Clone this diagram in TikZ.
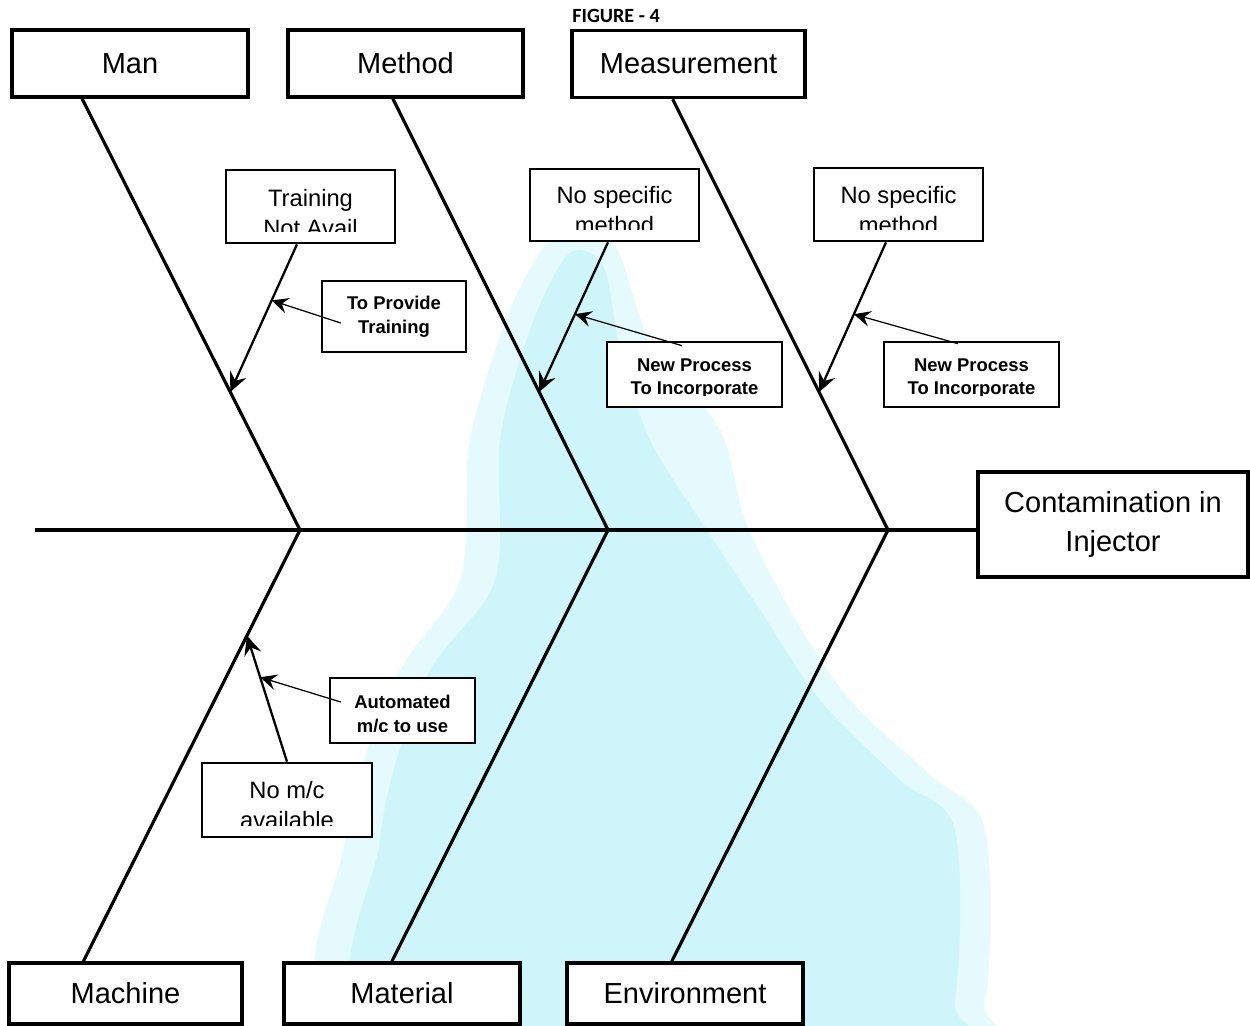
\documentclass[tikz,border=0pt]{standalone}
\usepackage{fontspec}
\setmainfont{Liberation Sans}
\newfontfamily\figfont{Carlito}
\usepackage{xcolor}
\usetikzlibrary{arrows.meta, calc, positioning}

\definecolor{wmcyan}{RGB}{206,246,250}
\definecolor{wmpale}{RGB}{228,250,252}
\newcommand{\causefont}{\fontsize{13.5}{17}\selectfont}
\newcommand{\notefont}{\bfseries\fontsize{10.5}{13.6}\selectfont}

\tikzset{
	bone/.style={line width=1.8pt, line join=miter},
	bone box/.style={draw, line width=2pt, fill=white, inner sep=0pt, minimum height=1.34cm, align=center, font=\fontsize{16.5}{22.7}\selectfont},
	cause box/.style={draw, line width=1.5pt, fill=white, inner sep=0pt},
	cause text/.style n args={3}{path picture={
		\clip ([yshift=0.23cm]path picture bounding box.south west) rectangle (path picture bounding box.north east);
		\node[anchor=north, inner sep=0pt, minimum width=0pt, minimum height=0pt, align=center, font=#1] at ([yshift=-#2]path picture bounding box.north) {#3};
	}},
	cause arrow/.style={line width=1.3pt, -{Stealth[length=11pt, width=10pt, inset=4pt]}},
	note arrow/.style={line width=0.7pt, -{Stealth[length=9.5pt, width=9pt, inset=3.5pt]}},
}

\begin{document}
\begin{tikzpicture}[x=0.02cm, y=-0.02cm]
	\useasboundingbox (0,0) rectangle (1250,1026);
	\fill[wmpale] plot[smooth cycle, tension=0.55] coordinates {(575,228) (615,245) (650,340) (720,430) (745,520) (790,610) (850,700) (930,775) (985,830) (985,1000) (940,1030) (360,1030) (345,840) (395,680) (460,580) (470,440) (510,310) (550,238)};
	\fill[wmcyan] plot[smooth cycle, tension=0.55] coordinates {(580,250) (605,270) (620,350) (650,440) (700,520) (760,610) (820,700) (900,780) (955,830) (955,1000) (920,1030) (390,1030) (380,840) (425,680) (495,580) (500,440) (530,330) (560,265)};

	\node[anchor=base west, inner sep=0pt, font=\figfont\bfseries\fontsize{11.5}{14}\selectfont] (figlabel) at (572,23) {FIGURE - 4};

	\node[bone box, minimum width=4.72cm] (man) at (130,63.5) {Man};
	\node[bone box, minimum width=4.70cm] (method) at (405.5,63.5) {Method};
	\node[bone box, minimum width=4.66cm] (meas) at (688.5,64) {Measurement};
	\node[bone box, minimum width=4.66cm, minimum height=1.22cm] (machine) at (125.5,993.5) {Machine};
	\node[bone box, minimum width=4.72cm, minimum height=1.22cm] (material) at (402,993.5) {Material};
	\node[bone box, minimum width=4.72cm, minimum height=1.22cm] (env) at (685,993.5) {Environment};
	\node[bone box, minimum width=5.4cm, minimum height=2.1cm] (head) at (1113,524.5) {Contamination in\\Injector};

	\coordinate (tail) at (35,530);
	\coordinate (j1) at (300,530);
	\coordinate (j2) at (608,530);
	\coordinate (j3) at (888,530);
	\draw[bone] (tail) -- (tail -| head.west);
	\draw[bone] ($(man.south west)!0.3!(man.south east)$) -- coordinate[pos=0.68] (mantip) (j1) -- coordinate[pos=0.245] (machtip) ($(machine.north west)!0.322!(machine.north east)$);
	\draw[bone] ($(method.south west)!0.447!(method.south east)$) -- coordinate[pos=0.68] (methtip) (j2) -- ($(material.north west)!0.458!(material.north east)$);
	\draw[bone] ($(meas.south west)!0.433!(meas.south east)$) -- coordinate[pos=0.68] (meastip) (j3) -- ($(env.north west)!0.445!(env.north east)$);

	\node[cause box, minimum width=3.38cm, minimum height=1.46cm, cause text={\causefont}{0.36cm}{Training\\Not Avail}] (train) at (310.5,206.5) {};
	\node[cause box, minimum width=3.38cm, minimum height=1.44cm, cause text={\causefont}{0.32cm}{No specific\\method}] (nsm1) at (614.5,205) {};
	\node[cause box, minimum width=3.38cm, minimum height=1.46cm, cause text={\causefont}{0.34cm}{No specific\\method}] (nsm2) at (898.5,204.5) {};
	\node[cause box, minimum width=3.40cm, minimum height=1.48cm, cause text={\causefont}{0.34cm}{No m/c\\available}] (nomc) at (287,800) {};

	\node[cause box, minimum width=2.88cm, minimum height=1.42cm, cause text={\notefont}{0.28cm}{To Provide\\Training}] (prov) at (394,316.5) {};
	\node[cause box, minimum width=3.50cm, minimum height=1.30cm, cause text={\notefont}{0.30cm}{New Process\\To Incorporate}] (np1) at (694.5,374.5) {};
	\node[cause box, minimum width=3.50cm, minimum height=1.30cm, cause text={\notefont}{0.30cm}{New Process\\To Incorporate}] (np2) at (971.5,374.5) {};
	\node[cause box, minimum width=2.90cm, minimum height=1.30cm, cause text={\notefont}{0.32cm}{Automated\\m/c to use}] (auto) at (402.5,710.5) {};

	\draw[cause arrow] ($(train.south)+(-13.5,0)$) -- coordinate[pos=0.38] (traintip) (mantip);
	\draw[note arrow] ($(prov.west)+(20,6.5)$) -- (traintip);
	\draw[cause arrow] ($(nsm1.south)+(-6.5,0)$) -- coordinate[pos=0.48] (nsm1tip) (methtip);
	\draw[note arrow] ($(np1.north)+(-12.5,5)$) -- (nsm1tip);
	\draw[cause arrow] ($(nsm2.south)+(-12.5,0)$) -- coordinate[pos=0.48] (nsm2tip) (meastip);
	\draw[note arrow] ($(np2.north)+(-13.5,3)$) -- (nsm2tip);
	\draw[cause arrow] (nomc.north) -- coordinate[pos=0.67] (nomctip) (machtip);
	\draw[note arrow] ($(auto.west)+(12,-8.5)$) -- (nomctip);
\end{tikzpicture}
\end{document}
